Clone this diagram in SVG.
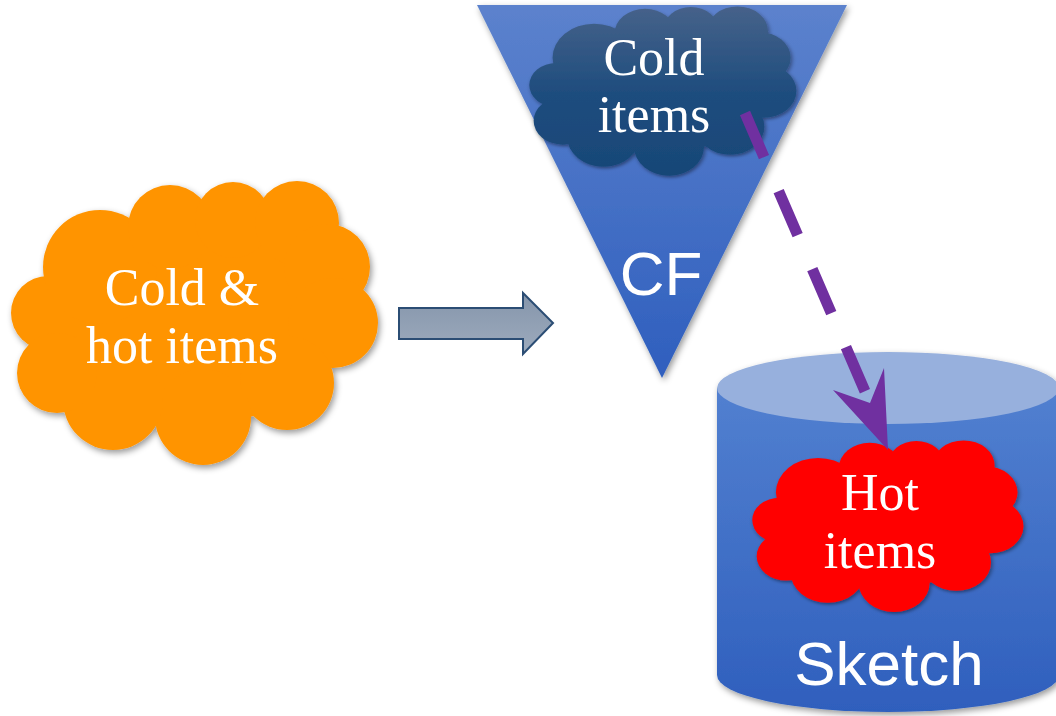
<svg xmlns="http://www.w3.org/2000/svg" xmlns:xlink="http://www.w3.org/1999/xlink" width="1056" height="716" viewBox="0 0 1056 716">
<style>
.serif{font-family:"Liberation Serif","DejaVu Serif",serif;font-size:52px;fill:#ffffff;text-anchor:middle}
.sans{font-family:"Liberation Sans","Arial",sans-serif;fill:#ffffff;text-anchor:middle}
</style>
<defs>
<filter id="sh" x="-10%" y="-10%" width="125%" height="125%">
<feDropShadow dx="2" dy="3" stdDeviation="3" flood-color="#000" flood-opacity="0.4"/>
</filter>
<linearGradient id="triG" x1="0" y1="0" x2="0" y2="1">
<stop offset="0" stop-color="#5c82cd"/>
<stop offset="1" stop-color="#2f5fbe"/>
</linearGradient>
<linearGradient id="cylG" x1="0" y1="0" x2="0" y2="1">
<stop offset="0" stop-color="#5280d0"/>
<stop offset="1" stop-color="#2f5fbd"/>
</linearGradient>
<linearGradient id="arrG" x1="0" y1="0" x2="0" y2="1">
<stop offset="0" stop-color="#8595ab"/>
<stop offset="1" stop-color="#9dabbd"/>
</linearGradient>
<linearGradient id="darkG" gradientUnits="userSpaceOnUse" x1="0" y1="182" x2="0" y2="467">
<stop offset="0" stop-color="#46628a"/>
<stop offset="0.5" stop-color="#1f4d7e"/>
<stop offset="1" stop-color="#174677"/>
</linearGradient>
<g id="cloud">
<ellipse cx="195" cy="325" rx="140" ry="100"/>
<circle cx="48" cy="313" r="37"/>
<circle cx="100" cy="267" r="57"/>
<circle cx="170" cy="227" r="42"/>
<circle cx="233" cy="220" r="38"/>
<circle cx="297" cy="223" r="42"/>
<circle cx="327" cy="267" r="43"/>
<circle cx="333" cy="323" r="45"/>
<circle cx="287" cy="383" r="47"/>
<circle cx="203" cy="417" r="48"/>
<circle cx="113" cy="400" r="50"/>
<circle cx="57" cy="373" r="40"/>
</g>
</defs>

<g id="cf-filter">
<polygon points="477,5 847,5 662,378" fill="url(#triG)" filter="url(#sh)"/>
<text class="sans" x="661" y="295" font-size="62">CF</text>
</g>

<g id="sketch">
<g filter="url(#sh)">
<path d="M717,388 L717,675 A171,37 0 0 0 1059,675 L1059,388 Z" fill="url(#cylG)"/>
<ellipse cx="888" cy="388" rx="171" ry="36" fill="#97b0dd"/>
</g>
<text class="sans" x="889" y="685" font-size="62">Sketch</text>
</g>

<g id="cold-hot-items">
<use xlink:href="#cloud" href="#cloud" fill="#ff9400" filter="url(#sh)"/>
<text class="serif" x="182" y="305">Cold &amp;</text>
<text class="serif" x="182" y="363">hot items</text>
</g>

<g id="cold-items">
<use xlink:href="#cloud" href="#cloud" fill="url(#darkG)" filter="url(#sh)" transform="translate(530,7) scale(0.728,0.596) translate(-12,-182)"/>
<text class="serif" x="654" y="75">Cold</text>
<text class="serif" x="654" y="132">items</text>
</g>

<g id="hot-items">
<use xlink:href="#cloud" href="#cloud" fill="#ff0000" filter="url(#sh)" transform="translate(753,441) scale(0.739,0.604) translate(-12,-182)"/>
<text class="serif" x="880" y="510">Hot</text>
<text class="serif" x="880" y="568">items</text>
</g>

<g id="connectors">
<polygon points="399,308 523,308 523,293 553,323 523,354 523,339 399,339" fill="url(#arrG)" stroke="#2b4d74" stroke-width="2" stroke-linejoin="miter"/>
<path d="M745,113 L870,403" fill="none" stroke="#7030a0" stroke-width="11" stroke-dasharray="48 37"/>
<polygon points="888,450 833,390 870,403 884,368" fill="#7030a0"/>
</g>
</svg>
